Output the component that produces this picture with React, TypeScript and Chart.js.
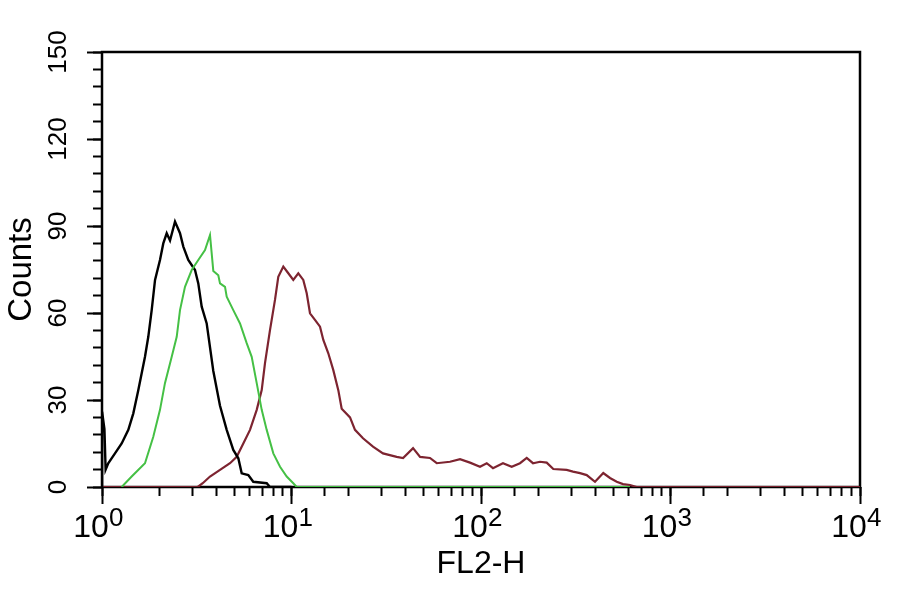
import React, { useEffect, useRef } from 'react';
import { Chart, registerables } from 'chart.js';

Chart.register(...registerables);

// ---- data ----
const blackX = [1, 1.001, 1.03, 1.045, 1.079, 1.171, 1.27, 1.377, 1.463, 1.554, 1.686, 1.755, 1.829, 1.905, 2.023, 2.106, 2.195, 2.285, 2.428, 2.58, 2.686, 2.853, 3.096, 3.222, 3.358, 3.568, 3.867, 4.195, 4.55, 4.93, 5.241, 5.46, 5.916, 6.286, 7.398, 7.7, 10];
const blackY = [0, 26, 20, 6, 8.2, 11.6, 15, 19.7, 25.4, 33.4, 44.9, 51.8, 61, 71.4, 78.3, 84, 87.5, 85, 91.5, 87.5, 82.9, 78.3, 74.8, 70.2, 62.2, 56.4, 40, 28, 19.7, 12.8, 9.9, 4.7, 4.1, 1.8, 1.3, 0, 0];

const greenX = [1.27, 1.434, 1.686, 1.865, 2.023, 2.149, 2.333, 2.479, 2.58, 2.741, 2.974, 3.222, 3.496, 3.715, 3.867, 4.109, 4.195, 4.458, 4.55, 4.93, 5.349, 5.801, 6.166, 6.553, 6.963, 7.398, 8.017, 8.7, 9.434, 10.22, 10.65, 611];
const greenY = [0, 3.6, 8.2, 17.3, 26.6, 35.8, 44.9, 51.8, 61, 69, 74.8, 78.3, 81.7, 86.9, 74.5, 73, 70.2, 69, 65.6, 61, 56.4, 49.6, 44.9, 35.8, 26.6, 19.7, 11.6, 7, 3.6, 1.3, 0, 0];

const redX = [1, 3.2, 3.4, 3.715, 4.195, 4.737, 5.139, 5.568, 6.04, 6.553, 6.963, 7.247, 7.7, 8.182, 8.517, 9.052, 9.618, 10.22, 10.86, 11.54, 12.03, 12.52, 13.3, 14.14, 14.72, 15.64, 16.62, 17.66, 18.4, 20.36, 21.63, 23.84, 26.92, 30.4, 35.9, 38.8, 43.8, 47.7, 53.8, 58.4, 68.6, 77.5, 87.5, 98.8, 107.2, 115.7, 130.6, 145.2, 160.6, 174.3, 188.1, 204.8, 222.2, 240.7, 283.3, 305.8, 333, 361.3, 399.6, 441.9, 479.4, 520.3, 561.6, 611.4, 663, 10000];
const redY = [0, 0, 1.3, 3.6, 5.9, 8.2, 10.4, 15, 19.7, 26.6, 33.4, 42.7, 54.1, 64.5, 72.5, 76, 73.7, 71.4, 73.7, 71.4, 66.8, 59.9, 57.6, 55.3, 50.7, 46.1, 40.3, 33.4, 27, 24, 19.7, 16.8, 13.9, 11.6, 10.4, 10, 13.4, 10.4, 10, 8.2, 8.7, 9.6, 8.4, 7, 8.2, 6.5, 8.2, 7, 8.2, 10, 8.2, 8.7, 8.4, 6.2, 5.9, 5.3, 4.8, 4.1, 1.8, 4.8, 3.1, 1.8, 1, 0.7, 0, 0];

const xDecades = [1, 10, 100, 1000, 10000];
const xTickLabels = ['10', '10', '10', '10', '10'];
const xTickExponents = ['0', '1', '2', '3', '4'];
const yMajorTicks = [0, 30, 60, 90, 120, 150];
const yTickLabels = ['0', '30', '60', '90', '120', '150'];

const REG = "'Liberation Sans', Arial, sans-serif";

const toPoints = (xs: number[], ys: number[]) => xs.map((x, i) => ({ x, y: ys[i] }));

const framePlugin = {
  id: 'frameAndSup',
  beforeDatasetsDraw(chart: any) {
    const { ctx, chartArea: a } = chart;
    ctx.save();
    ctx.strokeStyle = '#000';
    ctx.lineWidth = 2.5;
    ctx.strokeRect(a.left, a.top, a.right - a.left, a.bottom - a.top);
    ctx.restore();
  },
  afterDraw(chart: any) {
    const { ctx } = chart;
    const xs = chart.scales.x;
    ctx.save();
    ctx.fillStyle = '#000';
    ctx.font = `26px ${REG}`;
    ctx.textAlign = 'left';
    ctx.textBaseline = 'alphabetic';
    xDecades.forEach((v, i) => {
      const px = xs.getPixelForValue(v);
      ctx.fillText(xTickExponents[i], px + 7, xs.top + 39);
    });
    ctx.restore();
  },
};

export default function App() {
  const ref = useRef<HTMLCanvasElement | null>(null);

  useEffect(() => {
    if (!ref.current) return;
    const lineDs = (label: string, xs: number[], ys: number[], color: string, w: number) => ({
      label,
      data: toPoints(xs, ys),
      borderColor: color,
      backgroundColor: color,
      borderWidth: w,
      pointRadius: 0,
      fill: false,
      tension: 0,
      xAxisID: 'x',
      yAxisID: 'y',
    });
    const chart = new Chart(ref.current, {
      type: 'line',
      data: {
        datasets: [
          lineDs('green', greenX, greenY, '#45c045', 2),
          lineDs('black', blackX, blackY, '#000000', 2.4),
          lineDs('red', redX, redY, '#7d2430', 2.2),
        ],
      },
      options: {
        animation: false,
        responsive: false,
        devicePixelRatio: 1,
        layout: { padding: { top: 52, right: 40, left: 0, bottom: 0 } },
        plugins: {
          legend: { display: false },
          tooltip: { enabled: false },
        },
        scales: {
          x: {
            type: 'logarithmic',
            position: 'bottom',
            min: 1,
            max: 10000,
            weight: 1,
            afterBuildTicks: (s: any) => {
              s.ticks = xDecades.map((v) => ({ value: v, major: true }));
            },
            afterFit: (s: any) => {
              s.height = 107;
            },
            grid: { drawOnChartArea: false, drawTicks: true, tickLength: 17, tickWidth: 2, tickColor: '#000' },
            border: { display: false },
            ticks: {
              autoSkip: false,
              minRotation: 0,
              maxRotation: 0,
              padding: 8,
              labelOffset: -11,
              color: '#000',
              font: { family: REG, size: 32, lineHeight: 1 },
              callback: (_v: any, i: number) => xTickLabels[i],
            },
            title: {
              display: true,
              text: 'FL2-H',
              color: '#000',
              font: { family: REG, size: 32, lineHeight: 1.2 },
              padding: { top: 0, bottom: 11 },
            },
          },
          xMinor: {
            type: 'logarithmic',
            position: 'bottom',
            min: 1,
            max: 10000,
            weight: 0,
            afterFit: (s: any) => {
              s.height = 0;
            },
            grid: { drawOnChartArea: false, drawTicks: true, tickLength: 9, tickWidth: 2, tickColor: '#000' },
            border: { display: false },
            ticks: { display: false, autoSkip: false },
          },
          y: {
            type: 'linear',
            position: 'left',
            min: 0,
            max: 150,
            weight: 1,
            afterBuildTicks: (s: any) => {
              s.ticks = yMajorTicks.map((v) => ({ value: v }));
            },
            afterFit: (s: any) => {
              s.width = 102;
            },
            grid: { drawOnChartArea: false, drawTicks: true, tickLength: 15, tickWidth: 2, tickColor: '#000' },
            border: { display: false },
            ticks: {
              autoSkip: false,
              minRotation: 90,
              maxRotation: 90,
              crossAlign: 'center',
              padding: 6,
              color: '#000',
              font: { family: REG, size: 26, lineHeight: 1 },
              callback: (_v: any, i: number) => yTickLabels[i],
            },
            title: {
              display: true,
              text: 'Counts',
              color: '#000',
              font: { family: REG, size: 33, lineHeight: 1.2 },
              padding: { top: 2, bottom: 0 },
            },
          },
          yMinor: {
            type: 'linear',
            position: 'left',
            min: 0,
            max: 150,
            weight: 0,
            afterFit: (s: any) => {
              s.width = 0;
            },
            grid: { drawOnChartArea: false, drawTicks: true, tickLength: 9, tickWidth: 2, tickColor: '#000' },
            border: { display: false },
            ticks: { display: false, autoSkip: false, stepSize: 6 },
          },
        },
      } as any,
      plugins: [framePlugin],
    });
    return () => chart.destroy();
  }, []);

  return (
    <div style={{ position: 'absolute', left: 0, top: 0, width: 900, height: 594, background: '#fff' }}>
      <canvas ref={ref} width={900} height={594} style={{ display: 'block' }} />
    </div>
  );
}
